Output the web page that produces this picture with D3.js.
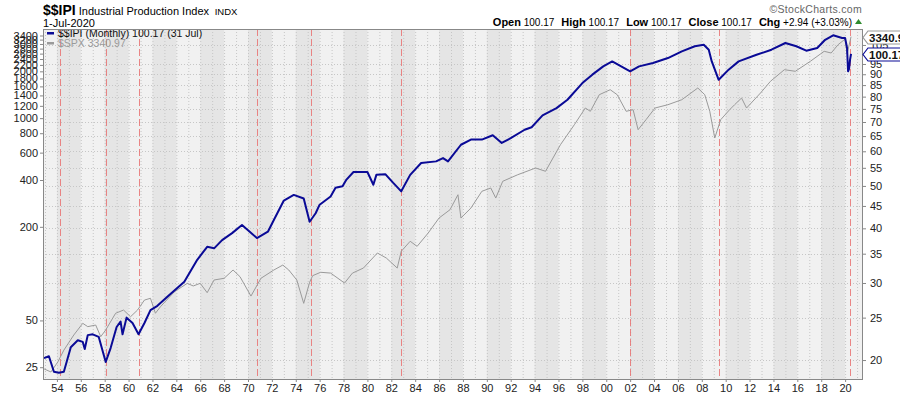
<!DOCTYPE html>
<html>
<head>
<meta charset="utf-8">
<script src="https://cdn.jsdelivr.net/npm/d3@7/dist/d3.min.js"></script>
<style>
body { margin: 0; background: #fff; }
svg { display: block; font-family: 'Liberation Sans', Arial, sans-serif; }
</style>
</head>
<body>
<div class="chart-container"></div>
<script>
// $$IPI monthly (right axis)
const ipiDates = [
    '1952-12', '1953-05', '1953-10', '1954-03', '1954-08', '1955-03', '1955-10', '1956-03', '1956-05', '1956-08',
    '1957-01', '1957-07', '1958-02', '1958-07', '1959-01', '1959-05', '1959-07', '1959-11', '1960-05', '1960-11',
    '1961-05', '1961-11', '1962-06', '1963-04', '1964-09', '1965-10', '1966-08', '1967-03', '1967-11', '1968-09',
    '1969-07', '1970-01', '1970-10', '1971-09', '1972-03', '1973-01', '1973-11', '1974-09', '1975-03', '1975-09',
    '1976-01', '1976-12', '1977-05', '1977-12', '1978-04', '1978-11', '1980-01', '1980-07', '1980-10', '1981-07',
    '1982-03', '1982-11', '1983-08', '1984-07', '1985-10', '1986-05', '1986-10', '1987-11', '1988-09', '1989-08',
    '1990-07', '1991-04', '1992-01', '1993-03', '1993-10', '1994-09', '1995-11', '1996-10', '1998-01', '1998-11',
    '1999-10', '2000-07', '2001-04', '2002-01', '2002-10', '2003-12', '2005-03', '2006-05', '2007-06', '2008-03',
    '2008-08', '2008-11', '2009-06', '2010-04', '2011-02', '2012-08', '2013-11', '2015-01', '2015-12', '2016-10',
    '2017-09', '2018-05', '2019-01', '2019-10', '2020-01', '2020-03', '2020-04', '2020-05', '2020-06', '2020-07'
];
const ipiValues = [
    20.2, 20.4, 18.8, 18.7, 18.8, 21.4, 22.2, 22.0, 21.2, 22.8,
    22.9, 22.6, 19.8, 21.3, 23.8, 24.5, 22.9, 25.0, 24.3, 22.9,
    24.3, 26.0, 26.6, 27.9, 30.2, 33.9, 36.3, 36.0, 37.6, 39.0,
    40.7, 39.6, 38.0, 39.3, 41.8, 46.3, 47.7, 46.8, 41.4, 43.3,
    45.3, 47.3, 49.5, 49.9, 51.7, 53.8, 53.8, 50.3, 53.0, 53.2,
    50.8, 48.6, 53.0, 56.4, 56.9, 57.9, 56.9, 62.1, 63.8, 63.8,
    65.3, 62.7, 64.3, 67.2, 68.1, 72.5, 75.3, 78.7, 85.9, 89.8,
    93.8, 96.3, 93.8, 91.4, 93.8, 95.5, 98.0, 101.5, 104.3, 105.1,
    102.4, 96.3, 87.4, 92.2, 96.3, 99.7, 102.4, 106.1, 104.3, 101.9,
    103.3, 107.9, 110.5, 108.9, 108.9, 103.3, 91.4, 92.6, 97.2, 100.17
];

// $SPX monthly (left axis)
const spxDates = [
    '1952-12', '1953-07', '1954-02', '1954-08', '1955-06', '1956-03', '1956-08', '1957-04', '1957-09', '1958-02',
    '1958-12', '1959-08', '1960-03', '1960-10', '1961-05', '1961-11', '1962-04', '1962-09', '1963-11', '1964-12',
    '1965-06', '1966-01', '1966-08', '1967-03', '1968-01', '1968-10', '1969-05', '1970-04', '1971-02', '1972-03',
    '1972-12', '1973-06', '1974-02', '1974-09', '1975-03', '1975-06', '1976-02', '1976-12', '1978-02', '1978-10',
    '1979-09', '1980-11', '1981-08', '1982-07', '1982-11', '1983-08', '1984-03', '1985-02', '1986-01', '1986-12',
    '1987-08', '1987-11', '1988-09', '1989-08', '1990-05', '1990-10', '1991-05', '1992-08', '1994-02', '1994-12',
    '1996-03', '1997-05', '1998-04', '1998-09', '1999-06', '2000-05', '2000-12', '2001-09', '2002-04', '2002-09',
    '2003-05', '2004-02', '2005-03', '2006-05', '2007-09', '2008-04', '2008-09', '2009-02', '2009-08', '2010-05',
    '2010-10', '2011-05', '2011-10', '2012-12', '2013-10', '2014-12', '2015-11', '2017-02', '2018-04', '2018-11',
    '2019-06', '2020-01', '2020-03', '2020-07'
];
const spxValues = [
    24.4, 23.3, 27.1, 32.2, 40.3, 47.9, 45.6, 46.7, 39.3, 43.4,
    55.6, 58.3, 52.8, 58.3, 67.6, 69.4, 55.6, 61.2, 76.4, 86.6,
    83.3, 86.6, 75.4, 91.0, 93.3, 105.5, 95.6, 71.7, 93.3, 105.5,
    113.5, 105.5, 91.0, 64.4, 88.0, 97.0, 102.0, 100.8, 87.0, 100.8,
    108.6, 135.7, 126.0, 108.6, 139.2, 161.4, 149.8, 182.4, 227.9, 257.6,
    321.7, 227.9, 264.1, 338.4, 355.3, 306.3, 392.4, 432.5, 477.8, 455.2,
    674.7, 907.5, 1161.9, 1106.5, 1414.9, 1523.6, 1414.9, 1106.5, 1133, 842.7,
    977, 1161.9, 1220, 1314, 1563, 1414.9, 1106.5, 745, 977, 1133,
    1220, 1347, 1162, 1451, 1725, 2049, 2001, 2320, 2691, 2624,
    2968, 3225, 2585, 3340.97
];

// recession troughs (red dashed markers)
const markerDates = ['1954-03', '1958-01', '1960-10', '1970-09', '1975-03', '1982-10', '2001-12', '2009-05', '2020-05'];

// tick labels
const leftTicks = [25, 50, 200, 400, 600, 800, 1000, 1200, 1400, 1600, 1800, 2000, 2200, 2400, 2600, 2800, 3000, 3200, 3400];
const rightTicks = [20, 25, 30, 35, 40, 45, 50, 55, 60, 65, 70, 75, 80, 85, 90, 95, 105];
const yearTicks = [1954, 1956, 1958, 1960, 1962, 1964, 1966, 1968, 1970, 1972, 1974, 1976, 1978, 1980, 1982, 1984,
    1986, 1988, 1990, 1992, 1994, 1996, 1998, 2000, 2002, 2004, 2006, 2008, 2010, 2012, 2014, 2016, 2018, 2020];

const parseMonth = d3.timeParse('%Y-%m');

function ready() {
    const margin = { top: 29, right: 38, bottom: 17, left: 43 };
    const width = 900 - margin.left - margin.right;
    const height = 396 - margin.top - margin.bottom;

    // scales
    const xScale = d3.scaleTime()
        .domain([new Date(1952, 10, 1), new Date(2021, 5, 1)])
        .range([0, width]);

    const yLeft = d3.scaleLog()
        .domain([21.0, 3744])
        .range([height, 0]);

    const yRight = d3.scaleLog()
        .domain([18.1, 114.2])
        .range([height, 0]);

    const ipi = ipiDates.map((d, i) => ({ date: parseMonth(d), value: ipiValues[i] }));
    const spx = spxDates.map((d, i) => ({ date: parseMonth(d), value: spxValues[i] }));

    const svg = d3.select('.chart-container')
        .append('svg')
        .attr('width', 900)
        .attr('height', 396);

    // header
    const head = svg.append('text').attr('x', margin.left).attr('y', 15);
    head.append('tspan').text('$$IPI').attr('font-weight', 'bold').attr('font-size', 14);
    head.append('tspan').text(' Industrial Production Index').attr('font-size', 11);
    head.append('tspan').text(' INDX').attr('font-size', 9.5).attr('dx', 3);

    svg.append('text')
        .attr('x', margin.left).attr('y', 27)
        .attr('font-size', 11)
        .text('1-Jul-2020');

    svg.append('text')
        .attr('x', margin.left + width).attr('y', 13)
        .attr('text-anchor', 'end')
        .attr('font-size', 10.5)
        .attr('letter-spacing', 0.3)
        .attr('fill', '#666')
        .text('\u00A9StockCharts.com');

    const quote = svg.append('text')
        .attr('x', margin.left + width - 10).attr('y', 26)
        .attr('text-anchor', 'end')
        .attr('font-size', 10);
    [['Open', '100.17'], ['High', '100.17'], ['Low', '100.17'], ['Close', '100.17'], ['Chg', '+2.94 (+3.03%)']]
        .forEach(([k, v], i) => {
            quote.append('tspan').text(k).attr('font-weight', 'bold').attr('font-size', 11)
                .attr('dx', i ? 7 : 0);
            quote.append('tspan').text(' ' + v);
        });
    svg.append('path')
        .attr('d', `M${margin.left + width - 7},${24} l3.5,-5 l3.5,5 Z`)
        .attr('fill', '#2e8b2e');

    const g = svg.append('g').attr('transform', `translate(${margin.left}, ${margin.top})`);

    g.append('clipPath').attr('id', 'clip')
        .append('rect').attr('width', width).attr('height', height);

    const plot = g.append('g').attr('clip-path', 'url(#clip)');

    // background + alternating 2-year bands
    plot.append('rect').attr('width', width).attr('height', height).attr('fill', '#f1f1f1');
    plot.selectAll('.band')
        .data(d3.range(1950, 2024, 4))
        .enter().append('rect')
        .attr('x', d => xScale(new Date(d, 0, 1)))
        .attr('width', d => xScale(new Date(d + 2, 0, 1)) - xScale(new Date(d, 0, 1)))
        .attr('height', height)
        .attr('fill', '#e5e5e5');

    // grid
    plot.selectAll('.vgrid')
        .data(d3.range(1953, 2022))
        .enter().append('line')
        .attr('x1', d => xScale(new Date(d, 0, 1)) + 0.5)
        .attr('x2', d => xScale(new Date(d, 0, 1)) + 0.5)
        .attr('y1', 0).attr('y2', height)
        .attr('stroke', '#c6c6c6')
        .attr('stroke-dasharray', '1,2');

    plot.selectAll('.hgrid')
        .data(rightTicks)
        .enter().append('line')
        .attr('x1', 0).attr('x2', width)
        .attr('y1', d => Math.round(yRight(d)) + 0.5)
        .attr('y2', d => Math.round(yRight(d)) + 0.5)
        .attr('stroke', '#c6c6c6')
        .attr('stroke-dasharray', '1,2');

    // recession markers
    plot.selectAll('.marker')
        .data(markerDates)
        .enter().append('line')
        .attr('x1', d => Math.round(xScale(parseMonth(d))) + 1.5)
        .attr('x2', d => Math.round(xScale(parseMonth(d))) + 1.5)
        .attr('y1', 0).attr('y2', height)
        .attr('stroke', '#e86a6a')
        .attr('stroke-opacity', 0.8)
        .attr('stroke-dasharray', '7,3');

    // lines
    const lineLeft = d3.line().x(d => xScale(d.date)).y(d => yLeft(d.value));
    const lineRight = d3.line().x(d => xScale(d.date)).y(d => yRight(d.value));

    plot.append('path')
        .attr('d', lineLeft(spx))
        .attr('fill', 'none')
        .attr('stroke', '#9a9a9a')
        .attr('stroke-width', 1);

    plot.append('path')
        .attr('d', lineRight(ipi))
        .attr('fill', 'none')
        .attr('stroke', '#0a0a96')
        .attr('stroke-width', 2)
        .attr('stroke-linejoin', 'round');

    // legend
    const legend = g.append('g').attr('transform', 'translate(4, 0)');
    legend.append('rect').attr('x', 0).attr('y', 3).attr('width', 7).attr('height', 2.5).attr('fill', '#0a0a96');
    legend.append('text').attr('x', 11).attr('y', 8).attr('font-size', 10.5).attr('fill', '#111')
        .text('$$IPI (Monthly) 100.17 (31 Jul)');
    legend.append('rect').attr('x', 0).attr('y', 13).attr('width', 7).attr('height', 2.5).attr('fill', '#9a9a9a');
    legend.append('text').attr('x', 11).attr('y', 18).attr('font-size', 10.5).attr('fill', '#9a9a9a')
        .text('$SPX 3340.97');

    // border
    g.append('rect')
        .attr('x', 0.5).attr('y', 0.5)
        .attr('width', width).attr('height', height)
        .attr('fill', 'none').attr('stroke', '#888');

    // axes
    const xAxis = d3.axisBottom(xScale)
        .tickValues(yearTicks.map(y => new Date(y, 0, 1)))
        .tickFormat(d3.timeFormat('%y'))
        .tickSize(3)
        .tickSizeOuter(0);
    const xAxisDraw = g.append('g')
        .attr('transform', `translate(0, ${height})`)
        .call(xAxis);
    xAxisDraw.select('.domain').remove();
    xAxisDraw.selectAll('text').attr('font-size', 11).attr('font-family', 'Liberation Sans, Arial').attr('fill', '#222').attr('dy', '0.6em');
    xAxisDraw.selectAll('line').attr('stroke', '#888');

    const leftAxis = d3.axisLeft(yLeft)
        .tickValues(leftTicks)
        .tickFormat(d3.format('d'))
        .tickSize(3)
        .tickSizeOuter(0);
    const leftDraw = g.append('g').call(leftAxis);
    leftDraw.select('.domain').remove();
    leftDraw.selectAll('text').attr('font-size', 11).attr('font-family', 'Liberation Sans, Arial').attr('fill', '#222').attr('dx', 1);
    leftDraw.selectAll('line').attr('stroke', '#888');

    const rightAxis = d3.axisRight(yRight)
        .tickValues(rightTicks)
        .tickFormat(d3.format('d'))
        .tickSize(4)
        .tickSizeOuter(0);
    const rightDraw = g.append('g').attr('transform', `translate(${width}, 0)`).call(rightAxis);
    rightDraw.select('.domain').remove();
    rightDraw.selectAll('text').attr('font-size', 11).attr('font-family', 'Liberation Sans, Arial').attr('fill', '#222').attr('dx', 1);
    rightDraw.selectAll('line').attr('stroke', '#888');

    // last value tags
    const tags = [
        { label: '3340.97', y: yLeft(3340.97), stroke: '#999' },
        { label: '100.17', y: yRight(100.17), stroke: '#0a0a96' }
    ];
    const tag = g.selectAll('.tag')
        .data(tags)
        .enter().append('g')
        .attr('transform', d => `translate(${width + 1}, ${Math.round(d.y) + 0.5})`);
    tag.append('path')
        .attr('d', 'M0,0 L5,-6.5 L60,-6.5 L60,6.5 L5,6.5 Z')
        .attr('fill', '#fff')
        .attr('stroke', d => d.stroke)
        .attr('stroke-width', 1.2);
    tag.append('text')
        .attr('x', 6).attr('y', 4.5)
        .attr('font-size', 11.5)
        .attr('font-weight', 'bold')
        .attr('fill', '#111')
        .text(d => d.label);
}

ready();
</script>
</body>
</html>
